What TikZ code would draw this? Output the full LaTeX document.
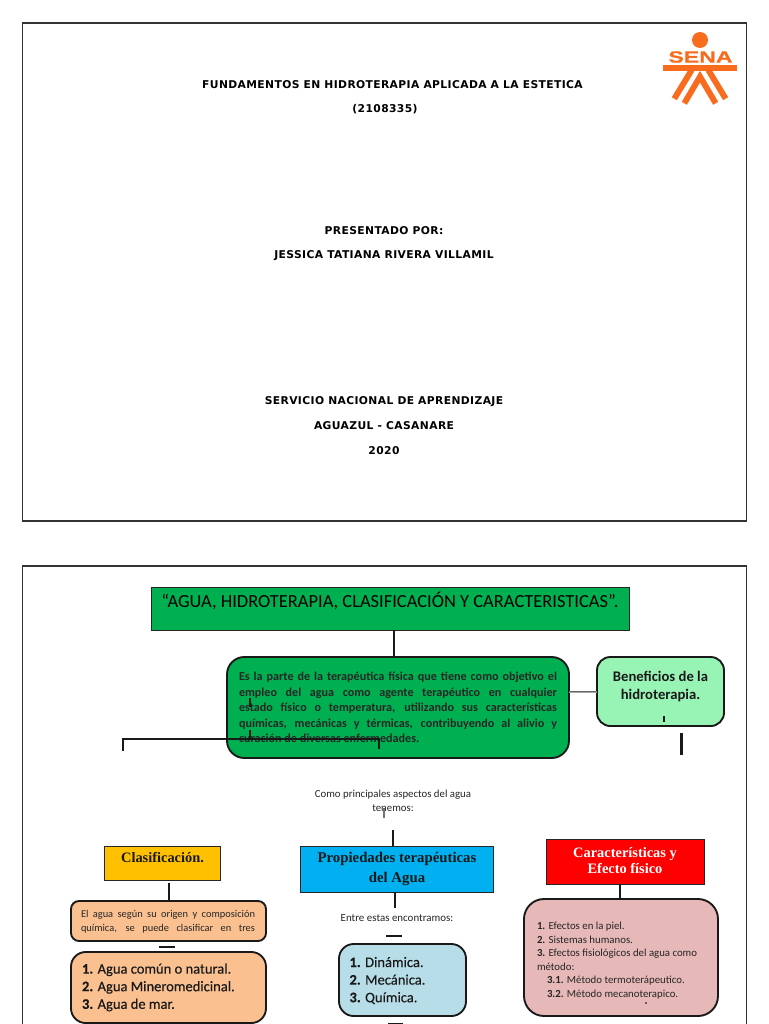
\documentclass[tikz,border=0pt]{standalone}
\usepackage{fontspec}
\setmainfont{Carlito}
\newfontfamily\verd{DejaVu Sans}[LetterSpace=3.6]
\newfontfamily\ser{Liberation Serif}
\newfontfamily\logofont{Liberation Sans Bold}[FakeStretch=1.42,FakeBold=0.5]
\newfontfamily\heavy{Carlito}[FakeBold=0.35]
\newcommand{\fs}[2]{\fontsize{#1}{#2}\selectfont}
\tikzset{
  every node/.style={inner sep=0pt,outer sep=0pt},
  frame/.style={draw=black!80,line width=0.8pt},
  sq/.style={draw=black!85,line width=0.75pt,inner sep=0pt,align=center},
  rnd/.style={draw=black!90,line width=1.4pt,rounded corners=#1,align=center},
  rnd/.default=13pt,
  conn/.style={draw=black!90,line width=1.5pt},
  thin tick/.style={draw=black!55,line width=0.8pt},
  cover/.style={align=center,text=black,font=\verd\bfseries\fs{8.05}{9}},
  logo/.style={draw=sena,line width=4.4pt,miter limit=10},
}
\definecolor{sena}{HTML}{F96C1E}
\definecolor{gr}{HTML}{00B050}
\definecolor{mint}{HTML}{98F4B5}
\definecolor{peach}{HTML}{FAC090}
\definecolor{lblue}{HTML}{B7DEE8}
\definecolor{pinkb}{HTML}{E6B8B7}
\definecolor{azul}{HTML}{00B0F0}
\definecolor{ama}{HTML}{FFC000}
\definecolor{roj}{HTML}{FF0000}
\begin{document}
\begin{tikzpicture}[x=0.75pt,y=-0.75pt]
\useasboundingbox (0,0) rectangle (768,1024);
\fill[white] (0,0) rectangle (768,1024);
% frames
\draw[frame] (22.5,23) rectangle (746.5,521);
\draw[frame] (22.5,1040) -- (22.5,566) -- (746.5,566) -- (746.5,1040);
% cover
\node[cover] (c1) at (392.5,85) {FUNDAMENTOS EN HIDROTERAPIA APLICADA A LA ESTETICA};
\node[cover] (c2) at (385,109) {(2108335)};
\node[cover] (c3) at (384,231) {PRESENTADO POR:};
\node[cover] (c4) at (384,256) {JESSICA TATIANA RIVERA VILLAMIL};
\node[cover] (c5) at (384,402) {SERVICIO NACIONAL DE APRENDIZAJE};
\node[cover] (c6) at (384,426) {AGUAZUL - CASANARE};
\node[cover] (c7) at (384,451) {2020};
% logo
\fill[sena] (700,40) circle (8);
\node[text=sena,font=\logofont\fs{12.2}{13}] (sena) at (700.5,57) {SENA};
\fill[sena] (662.7,65) rectangle (737.3,70.7);
\draw[logo] (691.7,70) -- (674.3,98.7);
\draw[logo] (708.3,70) -- (725.7,98.7);
\draw[logo] (684.3,103.3) -- (700,76.7) -- (715.7,103.3);
% boxes
\node[sq,fill=gr,minimum width=478*0.75pt,minimum height=43*0.75pt,anchor=north west] (title) at (151,587) {};
\node[font=\fs{13.85}{16},text=black] (titlet) at (390,601) {“AGUA, HIDROTERAPIA, CLASIFICACIÓN Y CARACTERISTICAS”.};
\node[rnd=13pt,fill=gr,minimum width=342*0.75pt,minimum height=101*0.75pt,anchor=north west] (main) at (227,657) {};
\node[text width=318*0.75pt,align=justify,font=\bfseries\fs{9.1}{11.65},text=black!85,anchor=north west] (maint) at (239,672) {\sloppy Es la parte de la terapéutica física que tiene como objetivo el\linebreak empleo del agua como agente terapéutico en cualquier\linebreak estado físico o temperatura, utilizando sus características\linebreak químicas, mecánicas y térmicas, contribuyendo al alivio y\linebreak curación de diversas enfermedades.};
\node[rnd=10pt,fill=mint,minimum width=127*0.75pt,minimum height=69*0.75pt,anchor=north west] (benef) at (597,657) {};
\node[align=center,font=\bfseries\fs{11}{13.5},text=black!90] (beneft) at (660.5,686.5) {Beneficios de la\\hidroterapia.};
\node[align=center,font=\fs{8.1}{10.8},text=black!85] (como) at (393,800.5) {Como principales aspectos del agua\\tenemos:};
\node[sq,fill=ama,minimum width=116*0.75pt,minimum height=34*0.75pt,anchor=north west] (clas) at (104,846) {};
\node[font=\ser\bfseries\fs{10.8}{12},text=black!90] (clast) at (162.5,858) {Clasificación.};
\node[sq,fill=azul,minimum width=193*0.75pt,minimum height=46*0.75pt,anchor=north west] (prop) at (300,846) {};
\node[align=center,font=\ser\bfseries\fs{11.1}{15},text=black!90] (propt) at (397,869) {Propiedades terapéuticas\\del Agua};
\node[sq,fill=roj,minimum width=158*0.75pt,minimum height=45*0.75pt,anchor=north west] (car) at (546,839) {};
\node[align=center,font=\ser\bfseries\fs{10.8}{12.2},text=white] (cart) at (625,860.5) {Características y\\Efecto físico};
\node[rnd=6pt,fill=peach,minimum width=195*0.75pt,minimum height=40*0.75pt,anchor=north west] (ag) at (71,901) {};
\node[text width=174*0.75pt,align=justify,font=\fs{7.8}{10.6},text=black!85,anchor=north west] (agt) at (81,910) {\sloppy El agua según su origen y composición\linebreak química, se puede clasificar en tres\linebreak};
\node[rnd=11pt,fill=peach,minimum width=195*0.75pt,minimum height=71*0.75pt,anchor=north west] (tres) at (71,952) {};
\node[align=left,font=\heavy\fs{10.9}{13.2},text=black!90,anchor=north west] (trest) at (82,963.5) {\textbf{1.} Agua común o natural.\\\textbf{2.} Agua Mineromedicinal.\\\textbf{3.} Agua de mar.};
\node[font=\fs{8.2}{9},text=black!85] (entre) at (397,918) {Entre estas encontramos:};
\node[rnd=11pt,fill=lblue,minimum width=127*0.75pt,minimum height=72*0.75pt,anchor=north west] (din) at (339,944) {};
\node[align=left,font=\heavy\fs{10.9}{13.2},text=black!90,anchor=north west] (dint) at (349.5,957) {\textbf{1.} Dinámica.\\\textbf{2.} Mecánica.\\\textbf{3.} Química.};
\node[rnd=15pt,fill=pinkb,minimum width=194*0.75pt,minimum height=117*0.75pt,anchor=north west] (efe) at (524,899) {};
\node[align=left,font=\fs{8.1}{10.15},text=black!85,anchor=north west] (efet) at (537,922) {\textbf{1.} Efectos en la piel.\\\textbf{2.} Sistemas humanos.\\\textbf{3.} Efectos fisiológicos del agua como\\método:\\\hspace*{7.5pt}\textbf{3.1.} Método termoterápeutico.\\\hspace*{7.5pt}\textbf{3.2.} Método mecanoterapico.};
% connector anchors
\coordinate (xt) at (394,0);
\coordinate (yb) at (0,692);
\coordinate (bl) at (123,751);
\coordinate (bm) at (123,739);
\coordinate (br) at (379,739);
\coordinate (bre) at (379,749);
\coordinate (ta) at (250,698); \coordinate (tb) at (250,707);
\coordinate (tc) at (250,730); \coordinate (td) at (250,739);
\coordinate (be) at (664,716); \coordinate (bf) at (664,722);
\coordinate (bg) at (681.5,733); \coordinate (bh) at (681.5,755);
\coordinate (ca) at (384,808); \coordinate (cb) at (384,818);
\coordinate (xp) at (393,830);
\coordinate (xc) at (169,883);
\coordinate (ta1) at (159,947); \coordinate (ta2) at (175,947);
\coordinate (xq) at (395,908);
\coordinate (e1) at (386,936); \coordinate (e2) at (402,936);
\coordinate (f1) at (388,1023.5); \coordinate (f2) at (403,1023.5);
\coordinate (xr) at (620,0);
% connectors
\draw[conn] (xt |- title.south) -- (xt |- main.north);
\draw[draw=black!60,line width=2.2pt] (main.east |- yb) -- (benef.west |- yb);
\draw[draw=black!35,line width=0.5pt] (main.east |- yb) -- (benef.west |- yb);
\draw[conn] (bl) -- (bm) -- (br) -- (bre);
\draw[conn,line width=1.1pt] (ta) -- (tb);
\draw[conn,line width=1.1pt] (tc) -- (td);
\draw[thin tick,draw=black!90] (be) -- (bf);
\draw[conn,line width=2.6pt] (bg) -- (bh);
\draw[thin tick] (ca) -- (cb);
\draw[conn] (xp) -- (xp |- prop.north);
\draw[conn] (xc) -- (xc |- ag.north);
\draw[conn] (ta1) -- (ta2);
\draw[conn] (xq |- prop.south) -- (xq);
\draw[conn] (e1) -- (e2);
\draw[conn] (f1) -- (f2);
\draw[conn] (xr |- car.south) -- (xr |- efe.north);
\fill[black] (646,1003) circle (0.9);
\end{tikzpicture}
\end{document}
